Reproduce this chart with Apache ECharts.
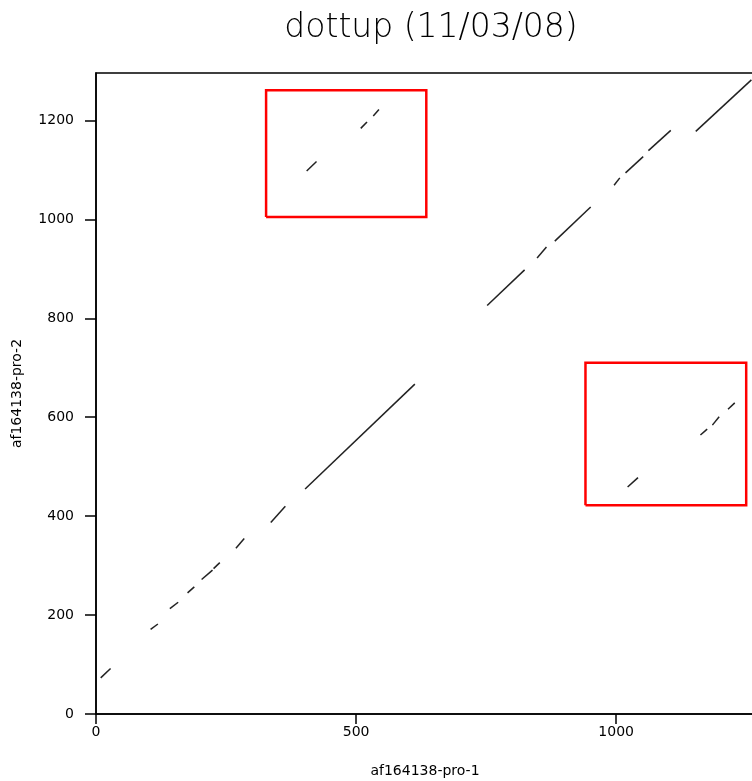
<!DOCTYPE html>
<html>
<head>
<meta charset="utf-8">
<script src="https://cdn.jsdelivr.net/npm/echarts@6/dist/echarts.min.js"></script>
<style>
html,body{margin:0;padding:0;background:#fff;}
#chart{width:752px;height:781px;}
</style>
</head>
<body>
<div id="chart"></div>
<script>
// Title and axis names
const titleText = 'dottup (11/03/08)';
const xName = 'af164138-pro-1';
const yName = 'af164138-pro-2';

// Axis ranges / ticks
const xMax = 1265;
const yMax = 1296;
const xTickStep = 500;
const yTickStep = 200;

// Match segments [x1, y1, x2, y2] along the main diagonal
const diagonalSegments = [
  [9, 73, 28, 92],
  [105, 171, 119, 182],
  [142, 213, 158, 226],
  [176, 245, 189, 257],
  [203, 272, 224, 291],
  [226, 294, 238, 306],
  [269, 335, 285, 355],
  [336, 387, 364, 420],
  [402, 455, 613, 667],
  [752, 826, 824, 898],
  [848, 922, 866, 944],
  [882, 956, 951, 1025],
  [996, 1069, 1007, 1084],
  [1018, 1094, 1052, 1127],
  [1062, 1139, 1105, 1180],
  [1153, 1178, 1260, 1282]
];

// Off-diagonal match segments (upper-left box)
const repeatSegmentsA = [
  [405, 1098, 424, 1117],
  [509, 1184, 521, 1197],
  [533, 1209, 544, 1222]
];

// Off-diagonal match segments (lower-right box)
const repeatSegmentsB = [
  [1022, 459, 1042, 478],
  [1162, 564, 1175, 576],
  [1185, 584, 1198, 601],
  [1215, 616, 1228, 629]
];

// Highlight boxes [xMin, yMin, xMax, yMax]
const highlightBoxes = [
  [327, 1005, 635, 1261],
  [941, 422, 1250, 710]
];

const toLines = segs => segs.map(s => ({ coords: [[s[0], s[1]], [s[2], s[3]]] }));
const toRects = boxes => boxes.map(b => ({
  coords: [[b[0], b[1]], [b[2], b[1]], [b[2], b[3]], [b[0], b[3]], [b[0], b[1]]]
}));

const chart = echarts.init(document.getElementById('chart'), null, { renderer: 'canvas' });

const axisLabelFont = { color: '#000', fontFamily: 'DejaVu Sans', fontSize: 14 };

chart.setOption({
  animation: false,
  backgroundColor: '#fff',
  graphic: [{
    type: 'text',
    style: {
      text: titleText,
      x: 431,
      y: 28,
      align: 'center',
      verticalAlign: 'middle',
      fontFamily: 'DejaVu Sans',
      fontWeight: 200,
      fontSize: 33,
      fill: '#000'
    }
  }],
  grid: {
    left: 96,
    top: 73,
    width: 658,
    height: 641,
    containLabel: false,
    outerBoundsMode: 'none',
    show: true,
    borderColor: '#000',
    borderWidth: 1.5,
    backgroundColor: 'transparent'
  },
  xAxis: {
    type: 'value',
    min: 0,
    max: xMax,
    interval: xTickStep,
    name: xName,
    nameLocation: 'middle',
    nameGap: 50,
    nameTextStyle: axisLabelFont,
    axisLine: { show: true, onZero: false, lineStyle: { color: '#000', width: 1.5 } },
    axisTick: { show: true, inside: false, length: 10, lineStyle: { color: '#000', width: 1.5 } },
    axisLabel: Object.assign({ margin: 11, showMaxLabel: false, formatter: v => String(v) }, axisLabelFont),
    splitLine: { show: false }
  },
  yAxis: {
    type: 'value',
    min: 0,
    max: yMax,
    interval: yTickStep,
    name: yName,
    nameLocation: 'middle',
    nameGap: 72,
    nameTextStyle: axisLabelFont,
    axisLine: { show: true, onZero: false, lineStyle: { color: '#000', width: 1.5 } },
    axisTick: { show: true, inside: false, length: 11, lineStyle: { color: '#000', width: 1.5 } },
    axisLabel: Object.assign({ margin: 22, showMaxLabel: false, formatter: v => String(v) }, axisLabelFont),
    splitLine: { show: false }
  },
  series: [
    {
      type: 'lines',
      coordinateSystem: 'cartesian2d',
      polyline: false,
      silent: true,
      lineStyle: { color: '#222', width: 1.5, opacity: 1 },
      data: toLines(diagonalSegments)
    },
    {
      type: 'lines',
      coordinateSystem: 'cartesian2d',
      polyline: false,
      silent: true,
      lineStyle: { color: '#222', width: 1.5, opacity: 1 },
      data: toLines(repeatSegmentsA.concat(repeatSegmentsB))
    },
    {
      type: 'lines',
      coordinateSystem: 'cartesian2d',
      polyline: true,
      silent: true,
      lineStyle: { color: '#ff0000', width: 2.5, opacity: 1 },
      data: toRects(highlightBoxes)
    }
  ]
});
</script>
</body>
</html>
